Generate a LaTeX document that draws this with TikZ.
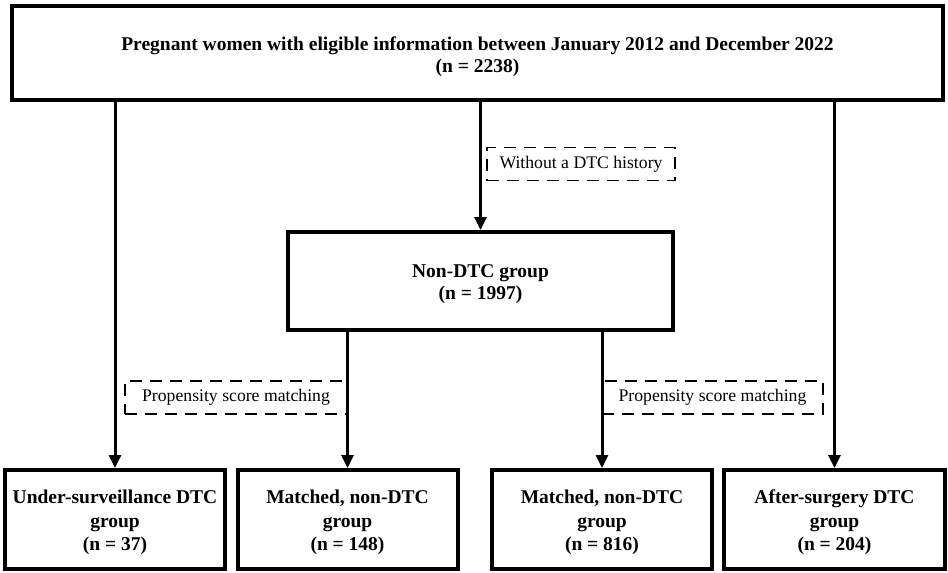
\documentclass[tikz,border=0pt]{standalone}
\usepackage{fontspec}
\setmainfont{Liberation Serif}
\usetikzlibrary{arrows.meta,positioning}
\begin{document}
\begin{tikzpicture}[x=1pt,y=-1pt,
  mainbox/.style={draw=black,line width=4pt,fill=white,rectangle,inner sep=0pt},
  boxtext/.style={align=center,inner sep=0pt,font=\fontsize{19.5}{22}\selectfont\bfseries},
  boxtextb/.style={boxtext,font=\fontsize{19.5}{23.5}\selectfont\bfseries},
  labelbox/.style={draw=black,line width=1.8pt,dash pattern=on 12pt off 8pt,rectangle,align=center,inner sep=0pt,
    font=\fontsize{17.7}{20}\selectfont},
  arr/.style={line width=3pt,-{Triangle[length=13pt,width=12pt]}}]
\useasboundingbox (0,0) rectangle (948,573);
\fill[white] (0,0) rectangle (948,573);
% boxes
\node[mainbox,minimum width=931pt,minimum height=94pt] (top) at (477.5,53) {};
\node[mainbox,minimum width=385pt,minimum height=98pt] (nd) at (480.5,281) {};
\node[mainbox,minimum width=220pt,minimum height=99pt] (b1) at (115,519.5) {};
\node[mainbox,minimum width=220pt,minimum height=99pt] (b2) at (347.5,519.5) {};
\node[mainbox,minimum width=220pt,minimum height=99pt] (b3) at (602,519.5) {};
\node[mainbox,minimum width=221pt,minimum height=99pt] (b4) at (834.5,519.5) {};
% box texts
\node[boxtext] (ttop) at ([yshift=-4pt]top.center)
  {Pregnant women with eligible information between January 2012 and December 2022\\(n = 2238)};
\node[boxtext] (tnd) at ([yshift=-3.5pt]nd.center) {Non-DTC group\\(n = 1997)};
\node[boxtextb] (tb1) at ([yshift=-3pt]b1.center) {Under-surveillance DTC\\group\\(n = 37)};
\node[boxtextb] (tb2) at ([yshift=-3pt]b2.center) {Matched, non-DTC\\group\\(n = 148)};
\node[boxtextb] (tb3) at ([yshift=-3pt]b3.center) {Matched, non-DTC\\group\\(n = 816)};
\node[boxtextb] (tb4) at ([yshift=-3pt]b4.center) {After-surgery DTC\\group\\(n = 204)};
% dashed labels
\node[labelbox,minimum width=188pt,minimum height=33pt] (l1) at (581,164) {Without a DTC history};
\node[labelbox,minimum width=222pt,minimum height=33pt] (l2) at (236,397.5) {Propensity score matching};
\node[labelbox,minimum width=221pt,minimum height=33pt] (l3) at (712.5,397.5) {Propensity score matching};
% connectors
\draw[arr] (top.south -| b1.north) -- (b1.north);
\draw[arr] (top.south -| nd.north) -- (nd.north);
\draw[arr] (top.south -| b4.north) -- (b4.north);
\draw[arr] (nd.south -| b2.north) -- (b2.north);
\draw[arr] (nd.south -| b3.north) -- (b3.north);
\end{tikzpicture}
\end{document}
